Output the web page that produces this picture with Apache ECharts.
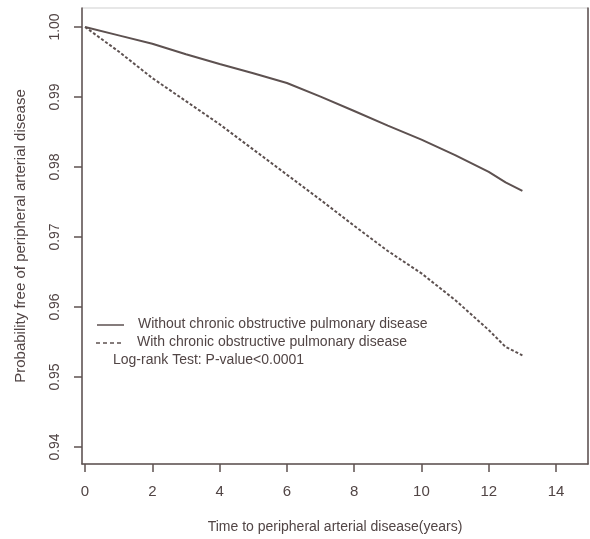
<!DOCTYPE html>
<html>
<head>
<meta charset="utf-8">
<script src="https://cdn.jsdelivr.net/npm/echarts@6/dist/echarts.min.js"></script>
<style>
  html, body { margin: 0; padding: 0; background: #ffffff; }
  #chart { width: 590px; height: 539px; }
</style>
</head>
<body>
<div id="chart"></div>
<script>
// Time points (years)
var timePoints = [0, 1, 2, 3, 4, 5, 6, 7, 8, 9, 10, 11, 12, 12.5, 13];
// Without chronic obstructive pulmonary disease
var withoutCOPD = [1.0000, 0.9988, 0.9976, 0.9961, 0.9947, 0.9934, 0.9920, 0.99005, 0.9880, 0.9859, 0.9839, 0.9817, 0.9793, 0.9778, 0.9766];
// With chronic obstructive pulmonary disease
var withCOPD = [1.0000, 0.9965, 0.9927, 0.9894, 0.9861, 0.9825, 0.9789, 0.9753, 0.9716, 0.9680, 0.9648, 0.9610, 0.9567, 0.9543, 0.9531];

var xTicks = [0, 2, 4, 6, 8, 10, 12, 14];
var yTicks = [0.94, 0.95, 0.96, 0.97, 0.98, 0.99, 1.00];

var legendLabels = [
  'Without chronic obstructive pulmonary disease',
  'With chronic obstructive pulmonary disease'
];
var noteText = 'Log-rank Test: P-value<0.0001';
var xTitle = 'Time to peripheral arterial disease(years)';
var yTitle = 'Probability free of peripheral arterial disease';

var textColor = '#514545';
var lineColor = '#5d5150';
var font = 'Liberation Sans, Arial, sans-serif';

function pairs(xs, ys) {
  return xs.map(function (x, i) { return [x, ys[i]]; });
}

var chart = echarts.init(document.getElementById('chart'), null, { renderer: 'canvas' });

chart.setOption({
  backgroundColor: '#ffffff',
  animation: false,
  grid: {
    left: 82, right: 2, top: 8, bottom: 75,
    show: true, borderColor: '#cfcfcf', borderWidth: 1, backgroundColor: 'transparent'
  },
  xAxis: {
    type: 'value',
    min: -0.09, max: 14.95,
    name: xTitle,
    nameLocation: 'middle',
    nameGap: 56,
    nameTextStyle: { color: textColor, fontSize: 14, fontFamily: font },
    splitLine: { show: false },
    axisLine: { show: true, onZero: false, lineStyle: { color: lineColor, width: 1.5 } },
    axisTick: { show: true, length: 8, customValues: xTicks, lineStyle: { color: lineColor, width: 1.5 } },
    axisLabel: {
      customValues: xTicks, color: textColor, fontSize: 15, fontFamily: font, margin: 20,
      formatter: function (v) { return String(v); }
    }
  },
  yAxis: [{
    type: 'value',
    min: 0.93757, max: 1.00271,
    name: yTitle,
    nameLocation: 'middle',
    nameRotate: 90,
    nameGap: 54,
    nameTextStyle: { color: textColor, fontSize: 15, fontFamily: font },
    splitLine: { show: false },
    axisLine: { show: true, onZero: false, lineStyle: { color: lineColor, width: 1.5 } },
    axisTick: { show: true, length: 8, customValues: yTicks, lineStyle: { color: lineColor, width: 1.5 } },
    axisLabel: {
      customValues: yTicks, rotate: 90, color: textColor, fontSize: 14, fontFamily: font, margin: 20,
      formatter: function (v) { return v.toFixed(2); }
    }
  }, {
    type: 'value',
    position: 'right',
    min: 0.93757, max: 1.00271,
    splitLine: { show: false },
    axisLine: { show: true, onZero: false, lineStyle: { color: lineColor, width: 1.5 } },
    axisTick: { show: false },
    axisLabel: { show: false }
  }],
  series: [{
    name: legendLabels[0],
    type: 'line',
    data: pairs(timePoints, withoutCOPD),
    showSymbol: false,
    symbol: 'none',
    lineStyle: { color: lineColor, width: 2, type: 'solid' }
  }, {
    name: legendLabels[1],
    type: 'line',
    data: pairs(timePoints, withCOPD),
    showSymbol: false,
    symbol: 'none',
    lineStyle: { color: lineColor, width: 2, type: [3, 2] }
  }],
  graphic: [
    { type: 'line', shape: { x1: 97, y1: 325, x2: 124, y2: 325 }, style: { stroke: lineColor, lineWidth: 1.5 } },
    { type: 'line', shape: { x1: 96, y1: 343, x2: 123, y2: 343 }, style: { stroke: lineColor, lineWidth: 1.5, lineDash: [4, 3] } },
    { type: 'text', left: 138, top: 317, style: { text: legendLabels[0], fill: textColor, font: '14px ' + font } },
    { type: 'text', left: 137, top: 335, style: { text: legendLabels[1], fill: textColor, font: '14px ' + font } },
    { type: 'text', left: 113, top: 353, style: { text: noteText, fill: textColor, font: '14px ' + font } }
  ]
});
</script>
</body>
</html>
